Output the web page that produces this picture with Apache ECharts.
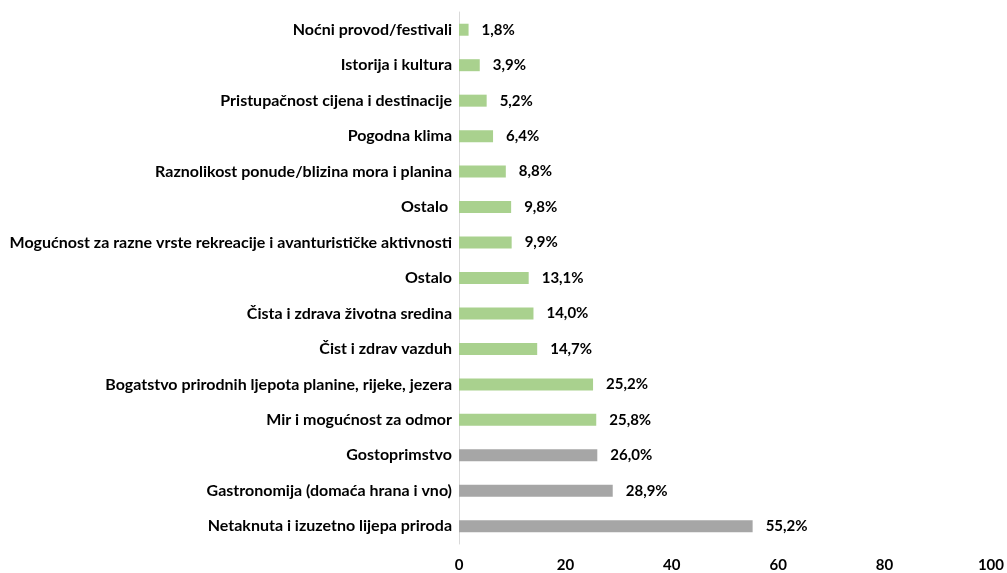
<!DOCTYPE html>
<html>
<head>
<meta charset="utf-8">
<script src="https://cdn.jsdelivr.net/npm/echarts@6/dist/echarts.min.js"></script>
<style>
  html, body { margin: 0; padding: 0; background: #fff; }
  #chart { width: 1007px; height: 573px; }
</style>
</head>
<body>
<div id="chart"></div>
<script>
// categories bottom -> top
const categories = [
  'Netaknuta i izuzetno lijepa priroda',
  'Gastronomija (domaća hrana i vno)',
  'Gostoprimstvo',
  'Mir i mogućnost za odmor',
  'Bogatstvo prirodnih ljepota planine, rijeke, jezera',
  'Čist i zdrav vazduh',
  'Čista i zdrava životna sredina',
  'Ostalo',
  'Mogućnost za razne vrste rekreacije i avanturističke aktivnosti',
  'Ostalo ',
  'Raznolikost ponude/blizina mora i planina',
  'Pogodna klima',
  'Pristupačnost cijena i destinacije',
  'Istorija i kultura',
  'Noćni provod/festivali'
]
const values = [55.2, 28.9, 26.0, 25.8, 25.2, 14.7, 14.0, 13.1, 9.9, 9.8, 8.8, 6.4, 5.2, 3.9, 1.8]
const grayCount = 3

const chart = echarts.init(document.getElementById('chart'))
const font = 'Lato, "Open Sans", sans-serif'

chart.setOption({
  animation: false,
  grid: { left: 459, right: 14, top: 12, bottom: 28 },
  xAxis: {
    type: 'value',
    min: 0,
    max: 100,
    interval: 20,
    splitLine: { show: false },
    axisLine: { show: false },
    axisTick: { show: false },
    axisLabel: {
      margin: 14,
      color: '#000',
      fontFamily: font,
      fontWeight: 'bold',
      fontSize: 15
    }
  },
  yAxis: {
    type: 'category',
    data: categories,
    axisTick: { show: false },
    axisLine: { lineStyle: { color: '#d9d9d9', width: 1 } },
    axisLabel: {
      margin: 7,
      color: '#000',
      fontFamily: font,
      fontWeight: 'bold',
      fontSize: 16
    }
  },
  series: [
    {
      type: 'bar',
      barWidth: 12,
      data: values.map((v, i) => ({
        value: v,
        itemStyle: { color: i < grayCount ? '#a6a6a6' : '#a9d18e' }
      })),
      label: {
        show: true,
        position: 'right',
        distance: 13,
        color: '#000',
        fontFamily: font,
        fontWeight: 'bold',
        fontSize: 15,
        formatter: p => p.value.toFixed(1).replace('.', ',') + '%'
      }
    }
  ]
})
</script>
</body>
</html>
